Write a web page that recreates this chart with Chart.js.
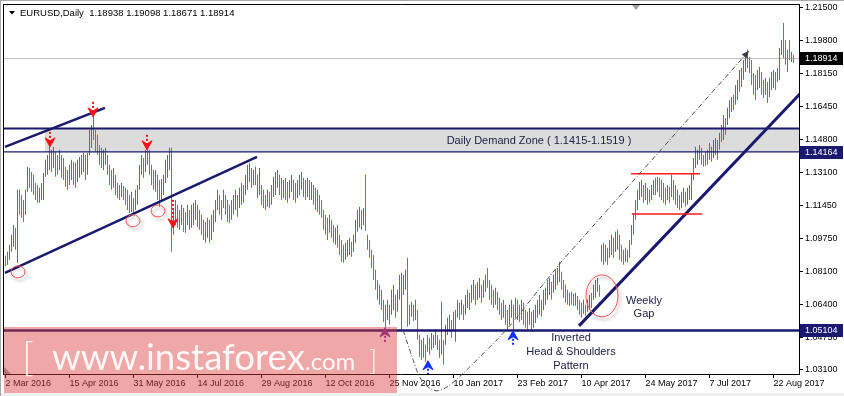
<!DOCTYPE html>
<html>
<head>
<meta charset="utf-8">
<script src="https://cdn.jsdelivr.net/npm/chart.js"></script>
<style>
  html, body { margin: 0; padding: 0; background: #fff; overflow: hidden; }
  #wrap { width: 844px; height: 396px; }
</style>
</head>
<body>
<div id="wrap"><canvas id="myChart" width="844" height="396"></canvas></div>
<script>
// EURUSD daily, 2 Mar 2016 .. 30 Aug 2017 (one value per trading day)
const symbol = 'EURUSD,Daily';
const lastOHLC = [1.18938, 1.19098, 1.18671, 1.18914];

const highs = [
  1.0889, 1.0910, 1.0945, 1.0996, 1.1046, 1.1031, 1.1224, 1.1224, 1.1198, 1.1173,
  1.1224, 1.1341, 1.1335, 1.1315, 1.1300, 1.1259, 1.1249, 1.1234, 1.1259, 1.1310,
  1.1376, 1.1401, 1.1462, 1.1427, 1.1442, 1.1417, 1.1401, 1.1427, 1.1401, 1.1386,
  1.1341, 1.1325, 1.1351, 1.1376, 1.1366, 1.1361, 1.1376, 1.1391, 1.1401, 1.1411,
  1.1401, 1.1411, 1.1528, 1.1553, 1.1594, 1.1528, 1.1503, 1.1452, 1.1437, 1.1427,
  1.1437, 1.1401, 1.1351, 1.1325, 1.1335, 1.1300, 1.1259, 1.1249, 1.1259, 1.1244,
  1.1234, 1.1224, 1.1198, 1.1214, 1.1183, 1.1224, 1.1249, 1.1351, 1.1401, 1.1386,
  1.1427, 1.1462, 1.1427, 1.1351, 1.1325, 1.1325, 1.1300, 1.1274, 1.1279, 1.1300,
  1.1376, 1.1401, 1.1437, 1.1437, 1.1122, 1.1173, 1.1148, 1.1122, 1.1148, 1.1132,
  1.1112, 1.1148, 1.1122, 1.1148, 1.1158, 1.1173, 1.1148, 1.1122, 1.1097, 1.1072,
  1.1061, 1.1082, 1.1072, 1.1097, 1.1122, 1.1173, 1.1224, 1.1198, 1.1173, 1.1224,
  1.1198, 1.1173, 1.1148, 1.1173, 1.1198, 1.1224, 1.1198, 1.1234, 1.1259, 1.1249,
  1.1300, 1.1351, 1.1361, 1.1335, 1.1325, 1.1341, 1.1300, 1.1335, 1.1249, 1.1224,
  1.1198, 1.1224, 1.1214, 1.1249, 1.1290, 1.1315, 1.1325, 1.1300, 1.1285, 1.1274,
  1.1285, 1.1264, 1.1274, 1.1300, 1.1274, 1.1259, 1.1274, 1.1300, 1.1315, 1.1285,
  1.1274, 1.1285, 1.1274, 1.1264, 1.1249, 1.1234, 1.1224, 1.1198, 1.1173, 1.1122,
  1.1097, 1.1082, 1.1097, 1.1072, 1.1046, 1.1031, 1.1046, 1.0996, 1.0970, 1.0945,
  1.0955, 1.0970, 1.0981, 1.0960, 1.0996, 1.1072, 1.1122, 1.1138, 1.1122, 1.1132,
  1.1300, 1.0996, 1.0970, 1.0920, 1.0894, 1.0818, 1.0767, 1.0742, 1.0717, 1.0666,
  1.0641, 1.0666, 1.0641, 1.0717, 1.0742, 1.0691, 1.0717, 1.0793, 1.0803, 1.0793,
  1.0818, 1.0879, 1.0641, 1.0656, 1.0641, 1.0666, 1.0615, 1.0488, 1.0463, 1.0473,
  1.0438, 1.0488, 1.0473, 1.0498, 1.0488, 1.0514, 1.0488, 1.0463, 1.0656, 1.0463,
  1.0539, 1.0575, 1.0590, 1.0564, 1.0605, 1.0615, 1.0666, 1.0651, 1.0666, 1.0641,
  1.0691, 1.0717, 1.0702, 1.0742, 1.0767, 1.0742, 1.0757, 1.0777, 1.0742, 1.0767,
  1.0793, 1.0828, 1.0767, 1.0742, 1.0717, 1.0727, 1.0707, 1.0676, 1.0651, 1.0666,
  1.0641, 1.0615, 1.0641, 1.0666, 1.0641, 1.0676, 1.0666, 1.0641, 1.0666, 1.0651,
  1.0615, 1.0605, 1.0625, 1.0605, 1.0615, 1.0641, 1.0666, 1.0691, 1.0666, 1.0717,
  1.0727, 1.0767, 1.0777, 1.0757, 1.0793, 1.0818, 1.0828, 1.0859, 1.0808, 1.0767,
  1.0742, 1.0717, 1.0702, 1.0707, 1.0697, 1.0702, 1.0686, 1.0666, 1.0651, 1.0666,
  1.0641, 1.0666, 1.0691, 1.0702, 1.0742, 1.0767, 1.0777, 1.0742, 1.0945, 1.0955,
  1.0945, 1.0930, 1.0970, 1.0996, 1.0981, 1.1011, 1.1021, 1.0996, 1.0945, 1.0920,
  1.0930, 1.0920, 1.0970, 1.1046, 1.1107, 1.1173, 1.1224, 1.1264, 1.1274, 1.1249,
  1.1259, 1.1234, 1.1224, 1.1249, 1.1274, 1.1285, 1.1290, 1.1285, 1.1274, 1.1259,
  1.1234, 1.1249, 1.1239, 1.1300, 1.1274, 1.1249, 1.1224, 1.1198, 1.1214, 1.1234,
  1.1214, 1.1234, 1.1249, 1.1310, 1.1386, 1.1442, 1.1427, 1.1452, 1.1437, 1.1401,
  1.1417, 1.1427, 1.1462, 1.1442, 1.1477, 1.1487, 1.1477, 1.1513, 1.1553, 1.1604,
  1.1589, 1.1640, 1.1680, 1.1695, 1.1706, 1.1756, 1.1782, 1.1832, 1.1842, 1.1883,
  1.1908, 1.1934, 1.1898, 1.1883, 1.1817, 1.1807, 1.1832, 1.1848, 1.1822, 1.1782,
  1.1792, 1.1771, 1.1792, 1.1822, 1.1832, 1.1822, 1.1842, 1.1944, 1.1984, 1.2070,
  1.1984, 1.1934, 1.1984, 1.1924, 1.19098
];

const lows = [
  1.0838, 1.0844, 1.0869, 1.0910, 1.0935, 1.0920, 1.0854, 1.1097, 1.1082, 1.1061,
  1.1097, 1.1214, 1.1234, 1.1214, 1.1198, 1.1173, 1.1158, 1.1158, 1.1173, 1.1173,
  1.1290, 1.1300, 1.1325, 1.1315, 1.1335, 1.1290, 1.1300, 1.1325, 1.1285, 1.1274,
  1.1239, 1.1224, 1.1249, 1.1274, 1.1249, 1.1234, 1.1264, 1.1285, 1.1300, 1.1315,
  1.1274, 1.1300, 1.1401, 1.1437, 1.1477, 1.1417, 1.1401, 1.1351, 1.1335, 1.1325,
  1.1351, 1.1300, 1.1249, 1.1224, 1.1234, 1.1198, 1.1183, 1.1173, 1.1188, 1.1173,
  1.1148, 1.1122, 1.1107, 1.1112, 1.1107, 1.1122, 1.1148, 1.1224, 1.1300, 1.1285,
  1.1315, 1.1351, 1.1300, 1.1249, 1.1224, 1.1214, 1.1173, 1.1138, 1.1173, 1.1198,
  1.1259, 1.1285, 1.1325, 1.0910, 1.0996, 1.1046, 1.1031, 1.1021, 1.1046, 1.1011,
  1.1006, 1.1046, 1.1021, 1.1031, 1.1046, 1.1072, 1.1036, 1.1021, 1.0996, 1.0970,
  1.0955, 1.0981, 1.0955, 1.0970, 1.1011, 1.1061, 1.1122, 1.1097, 1.1072, 1.1132,
  1.1097, 1.1061, 1.1056, 1.1072, 1.1097, 1.1122, 1.1087, 1.1132, 1.1148, 1.1158,
  1.1198, 1.1224, 1.1264, 1.1234, 1.1249, 1.1249, 1.1183, 1.1198, 1.1148, 1.1132,
  1.1122, 1.1138, 1.1132, 1.1148, 1.1188, 1.1198, 1.1234, 1.1198, 1.1173, 1.1183,
  1.1173, 1.1158, 1.1183, 1.1214, 1.1173, 1.1158, 1.1183, 1.1198, 1.1224, 1.1188,
  1.1173, 1.1188, 1.1173, 1.1173, 1.1148, 1.1122, 1.1112, 1.1097, 1.1082, 1.1021,
  1.0996, 1.0970, 1.1006, 1.0981, 1.0955, 1.0945, 1.0930, 1.0894, 1.0859, 1.0854,
  1.0869, 1.0884, 1.0894, 1.0884, 1.0910, 1.0955, 1.1011, 1.1031, 1.1021, 1.1046,
  1.1016, 1.0920, 1.0879, 1.0828, 1.0767, 1.0717, 1.0666, 1.0641, 1.0615, 1.0554,
  1.0524, 1.0564, 1.0539, 1.0590, 1.0615, 1.0575, 1.0605, 1.0666, 1.0514, 1.0691,
  1.0717, 1.0529, 1.0539, 1.0580, 1.0559, 1.0564, 1.0463, 1.0377, 1.0362, 1.0372,
  1.0352, 1.0402, 1.0387, 1.0413, 1.0423, 1.0438, 1.0413, 1.0372, 1.0387, 1.0337,
  1.0438, 1.0488, 1.0504, 1.0473, 1.0514, 1.0453, 1.0575, 1.0564, 1.0590, 1.0564,
  1.0590, 1.0625, 1.0615, 1.0651, 1.0666, 1.0641, 1.0666, 1.0676, 1.0651, 1.0676,
  1.0707, 1.0727, 1.0666, 1.0641, 1.0625, 1.0641, 1.0615, 1.0590, 1.0564, 1.0575,
  1.0539, 1.0514, 1.0539, 1.0575, 1.0514, 1.0575, 1.0564, 1.0554, 1.0564, 1.0539,
  1.0524, 1.0514, 1.0539, 1.0504, 1.0524, 1.0549, 1.0575, 1.0590, 1.0580, 1.0615,
  1.0641, 1.0666, 1.0691, 1.0666, 1.0702, 1.0717, 1.0742, 1.0757, 1.0717, 1.0676,
  1.0651, 1.0641, 1.0636, 1.0641, 1.0636, 1.0636, 1.0615, 1.0590, 1.0575, 1.0595,
  1.0585, 1.0605, 1.0615, 1.0625, 1.0666, 1.0676, 1.0707, 1.0681, 1.0859, 1.0844,
  1.0859, 1.0844, 1.0879, 1.0894, 1.0879, 1.0910, 1.0920, 1.0869, 1.0859, 1.0844,
  1.0859, 1.0854, 1.0879, 1.0945, 1.0996, 1.1072, 1.1122, 1.1173, 1.1188, 1.1158,
  1.1173, 1.1148, 1.1158, 1.1173, 1.1198, 1.1198, 1.1214, 1.1188, 1.1173, 1.1158,
  1.1148, 1.1173, 1.1158, 1.1188, 1.1173, 1.1148, 1.1132, 1.1122, 1.1132, 1.1158,
  1.1138, 1.1148, 1.1173, 1.1173, 1.1274, 1.1335, 1.1351, 1.1376, 1.1351, 1.1341,
  1.1346, 1.1351, 1.1376, 1.1366, 1.1386, 1.1401, 1.1376, 1.1427, 1.1467, 1.1477,
  1.1503, 1.1553, 1.1589, 1.1619, 1.1629, 1.1655, 1.1680, 1.1721, 1.1746, 1.1782,
  1.1822, 1.1842, 1.1817, 1.1756, 1.1706, 1.1680, 1.1731, 1.1741, 1.1706, 1.1690,
  1.1706, 1.1665, 1.1695, 1.1731, 1.1741, 1.1731, 1.1771, 1.1782, 1.1908, 1.1893,
  1.1858, 1.1822, 1.1883, 1.1873, 1.18671
];

// u = close above open (blue), d = close below open (red)
const upDown = ('duuuududdd uuddddduuu uuududdudd dduudduuuu duuudddddu ' +
  'udddudddud ddduduuuud uudddudduu uuudduduud duduuudddd ' +
  'duduuuuddu ddduuuduud uuududdudd duduuuuddu dduudduuud ' +
  'dududddddd dduddudddd uuuduuuudu dddddddddd duduuduuuu ' +
  'uddududddu duduuuddud uuuduuudud uuduuduudu uddddudddu ' +
  'dduududdud dduduuuudu uuuduuuudd dduddudddu duuduuuddd ' +
  'uduuduuddd uduuuuuuud udduududdd dududddduu duuuuuuudd ' +
  'ududuuduuu duuuduuuuu uudddduudd uduuuduuud dddud').replace(/ /g, '');

const dateLabels = ['2 Mar 2016', '15 Apr 2016', '31 May 2016', '14 Jul 2016', '29 Aug 2016',
  '12 Oct 2016', '25 Nov 2016', '10 Jan 2017', '23 Feb 2017', '10 Apr 2017',
  '24 May 2017', '7 Jul 2017', '22 Aug 2017'];
const dateIndex = [0, 32, 64, 96, 128, 160, 192, 224, 256, 288, 320, 352, 384];
const priceTicks = [1.215, 1.198, 1.1815, 1.1645, 1.148, 1.131, 1.1145, 1.0975, 1.081, 1.064, 1.0475, 1.031];

// levels and drawings, as [bar index, price]
const demandZone = [1.14164, 1.1535];
const zoneStart = 19.75;
const supportLevel = 1.05104;
const channelTop = [[-0.25, 1.1442], [49.75, 1.1640]];
const channelBottom = [[-0.25, 1.0803], [125.75, 1.1391]];
const risingTrend = [[286.75, 1.0534], [397.5, 1.1714]];
const flagTop = [[312.75, 1.1305], [347.25, 1.1305]];
const flagBottom = [[313.25, 1.1102], [348.25, 1.1102]];
const patternPath = [[198.75, 1.0514], [203.75, 1.0362], [207.25, 1.0261], [213.75, 1.0200],
  [218.75, 1.0210], [223.75, 1.0245], [230.75, 1.0311], [240.75, 1.0413], [250.75, 1.0514],
  [263.75, 1.0681], [278.75, 1.0869], [371.75, 1.1929]];
const sellArrows = [[22.25, 1.1442], [43.75, 1.1594], [70.75, 1.1427], [83.75, 1.1031]];
const buyArrows = [[189.75, 1.0524], [211.25, 1.0357], [253.75, 1.0509]];
const touchCircles = [[6.25, 1.0808], [63.75, 1.1067], [76.25, 1.1117]];
const gapCircle = [298.25, 1.0686];

const navy = '#191970';
const upColor = '#4169e1';
const downColor = '#ff4500';

function px(chart, pt) {
  return [chart.scales.x.getPixelForValue(pt[0]), chart.scales.y.getPixelForValue(pt[1])];
}

function strokeSeg(ctx, a, b) {
  ctx.beginPath();
  ctx.moveTo(a[0], a[1]);
  ctx.lineTo(b[0], b[1]);
  ctx.stroke();
}

function hLine(chart, value, width) {
  const ctx = chart.ctx, a = chart.chartArea;
  const y = chart.scales.y.getPixelForValue(value);
  ctx.lineWidth = width;
  strokeSeg(ctx, [a.left, y], [a.right, y]);
}

function arrow(ctx, x, tip, dir, color, shaft) {
  // dir 1 = pointing down, -1 = pointing up
  ctx.strokeStyle = color;
  ctx.fillStyle = color;
  ctx.lineWidth = 2;
  ctx.setLineDash([2, 2]);
  strokeSeg(ctx, [x, tip - dir * (8 + shaft)], [x, tip - dir * 7]);
  ctx.setLineDash([]);
  ctx.beginPath();
  ctx.moveTo(x, tip);
  ctx.lineTo(x - 5, tip - dir * 9);
  ctx.lineTo(x, tip - dir * 6);
  ctx.lineTo(x + 5, tip - dir * 9);
  ctx.closePath();
  ctx.fill();
  ctx.lineWidth = 1;
  ctx.stroke();
}

function circle(ctx, c, rx, ry) {
  ctx.save();
  ctx.shadowColor = 'rgba(0,0,0,0.35)';
  ctx.shadowBlur = 3;
  ctx.shadowOffsetX = 2;
  ctx.shadowOffsetY = 3;
  ctx.strokeStyle = '#ff4d4d';
  ctx.lineWidth = 1;
  ctx.beginPath();
  ctx.ellipse(c[0], c[1], rx, ry, 0, 0, Math.PI * 2);
  ctx.stroke();
  ctx.restore();
}

function priceBox(ctx, y, text, bg) {
  ctx.fillStyle = bg;
  ctx.fillRect(800, Math.round(y) - 6, 43, 13);
  ctx.fillStyle = '#fff';
  ctx.font = '9px "Liberation Sans"';
  ctx.textAlign = 'left';
  ctx.textBaseline = 'middle';
  ctx.fillText(text, 805, Math.round(y) + 0.5);
}

const decor = {
  id: 'decor',
  beforeDatasetsDraw(chart) {
    const ctx = chart.ctx, a = chart.chartArea, y = chart.scales.y;
    ctx.save();
    const zx = chart.scales.x.getPixelForValue(zoneStart);
    const zt = y.getPixelForValue(demandZone[1]);
    const zb = y.getPixelForValue(demandZone[0]);
    ctx.fillStyle = '#dcdcdc';
    ctx.fillRect(zx, zt, a.right - zx, zb - zt);
    ctx.strokeStyle = '#c0c0c0';
    const pl = Math.round(y.getPixelForValue(lastOHLC[3])) + 0.5;
    ctx.lineWidth = 1;
    strokeSeg(ctx, [a.left, pl], [a.right, pl]);
    ctx.restore();
  },
  afterDatasetsDraw(chart) {
    const ctx = chart.ctx, a = chart.chartArea;
    ctx.save();
    ctx.beginPath();
    ctx.rect(a.left, a.top, a.right - a.left, a.bottom - a.top);
    ctx.clip();

    ctx.strokeStyle = navy;
    hLine(chart, demandZone[1], 2);
    hLine(chart, demandZone[0], 1.3);
    hLine(chart, supportLevel, 2.6);
    ctx.lineWidth = 2.5;
    strokeSeg(ctx, px(chart, channelTop[0]), px(chart, channelTop[1]));
    strokeSeg(ctx, px(chart, channelBottom[0]), px(chart, channelBottom[1]));
    ctx.lineWidth = 3;
    strokeSeg(ctx, px(chart, risingTrend[0]), px(chart, risingTrend[1]));

    ctx.strokeStyle = '#ff1a1a';
    ctx.lineWidth = 1.5;
    strokeSeg(ctx, px(chart, flagTop[0]), px(chart, flagTop[1]));
    strokeSeg(ctx, px(chart, flagBottom[0]), px(chart, flagBottom[1]));

    sellArrows.forEach((pt, k) => {
      const p = px(chart, pt);
      arrow(ctx, Math.round(p[0]), p[1], 1, '#ff1010', k === 3 ? 20 : 7);
    });
    buyArrows.forEach((pt, k) => {
      const p = px(chart, pt);
      arrow(ctx, Math.round(p[0]), p[1], -1, k === 0 ? '#7a2bb0' : '#1030ff', 6);
    });

    touchCircles.forEach(pt => circle(ctx, px(chart, pt), 7, 6));
    circle(ctx, px(chart, gapCircle), 16, 21);

    ctx.fillStyle = '#20204a';
    ctx.font = '11px "Liberation Sans"';
    ctx.textAlign = 'center';
    ctx.textBaseline = 'middle';
    let t = px(chart, [266.75, 1.1474]);
    ctx.fillText('Daily Demand Zone ( 1.1415-1.1519 )', t[0], t[1]);
    t = px(chart, [282.75, 1.0474]);
    ctx.fillText('Inverted', t[0], t[1]);
    t = px(chart, [282.75, 1.0403]);
    ctx.fillText('Head & Shoulders', t[0], t[1]);
    t = px(chart, [282.75, 1.0332]);
    ctx.fillText('Pattern', t[0], t[1]);
    t = px(chart, [319.25, 1.0661]);
    ctx.fillText('Weekly', t[0], t[1]);
    t = px(chart, [319.25, 1.0595]);
    ctx.fillText('Gap', t[0], t[1]);
    ctx.restore();
  },
  afterDraw(chart) {
    const ctx = chart.ctx, a = chart.chartArea, y = chart.scales.y;
    ctx.save();

    // frame
    ctx.strokeStyle = '#000';
    ctx.lineWidth = 1;
    strokeSeg(ctx, [a.left + 0.5, a.top + 0.5], [a.right, a.top + 0.5]);
    strokeSeg(ctx, [a.left + 0.5, a.top], [a.left + 0.5, a.bottom]);
    ctx.fillStyle = '#f0f0f0';
    ctx.fillRect(0, 393, 844, 3);
    ctx.strokeStyle = '#a8a8a8';
    strokeSeg(ctx, [0, 0.5], [844, 0.5]);
    strokeSeg(ctx, [0.5, 0], [0.5, 396]);

    // chart shift markers
    ctx.fillStyle = '#a0a0a0';
    ctx.beginPath();
    ctx.moveTo(632, 5); ctx.lineTo(640, 5); ctx.lineTo(636, 10); ctx.closePath(); ctx.fill();
    ctx.beginPath();
    ctx.moveTo(4, 367); ctx.lineTo(4, 374); ctx.lineTo(11, 374); ctx.closePath(); ctx.fill();

    // head & shoulders path
    const pts = patternPath.map(p => px(chart, p));
    ctx.strokeStyle = '#4a4a5a';
    ctx.lineWidth = 1;
    ctx.setLineDash([5, 2, 1, 2]);
    ctx.beginPath();
    ctx.moveTo(pts[0][0], pts[0][1]);
    for (let k = 1; k < pts.length - 2; k++) {
      const mx = (pts[k][0] + pts[k + 1][0]) / 2, my = (pts[k][1] + pts[k + 1][1]) / 2;
      ctx.quadraticCurveTo(pts[k][0], pts[k][1], mx, my);
    }
    const e = pts[pts.length - 1], s = pts[pts.length - 2];
    ctx.lineTo(s[0], s[1]);
    ctx.lineTo(e[0], e[1]);
    ctx.stroke();
    ctx.setLineDash([]);
    const ang = Math.atan2(e[1] - s[1], e[0] - s[0]);
    ctx.fillStyle = '#3a3a4a';
    ctx.beginPath();
    ctx.moveTo(e[0], e[1]);
    ctx.lineTo(e[0] - 8 * Math.cos(ang - 0.4), e[1] - 8 * Math.sin(ang - 0.4));
    ctx.lineTo(e[0] - 8 * Math.cos(ang + 0.4), e[1] - 8 * Math.sin(ang + 0.4));
    ctx.closePath();
    ctx.fill();

    // watermark
    ctx.fillStyle = 'rgba(220,60,60,0.45)';
    ctx.fillRect(4, 327, 393, 66);
    ctx.fillStyle = 'rgba(255,255,255,0.92)';
    ctx.textAlign = 'left';
    ctx.textBaseline = 'alphabetic';
    ctx.font = '36px Lato';
    const w1 = ctx.measureText('www.instaforex').width;
    const size = 36 * 253 / w1;
    ctx.font = size.toFixed(1) + 'px Lato';
    ctx.fillText('www.instaforex', 52, 370);
    ctx.font = '24px Lato';
    ctx.fillText('.com', 305, 370);
    ctx.font = '300 40px Lato';
    ctx.fillText('[', 22, 371);
    ctx.font = '300 28px Lato';
    ctx.fillText(']', 369, 370);

    // price labels
    priceBox(ctx, y.getPixelForValue(lastOHLC[3]), lastOHLC[3].toFixed(5), '#000');
    priceBox(ctx, y.getPixelForValue(demandZone[0]), demandZone[0].toFixed(5), navy);
    priceBox(ctx, y.getPixelForValue(supportLevel), supportLevel.toFixed(5), navy);

    // header
    ctx.fillStyle = '#000';
    ctx.beginPath();
    ctx.moveTo(9, 11); ctx.lineTo(15, 11); ctx.lineTo(12, 14.5); ctx.closePath(); ctx.fill();
    ctx.font = '9.5px "Liberation Sans"';
    ctx.textBaseline = 'middle';
    ctx.fillText(symbol + '  ' + lastOHLC.map(v => v.toFixed(5)).join(' '), 20, 13);
    ctx.restore();
  }
};

const ctx = document.querySelector('#myChart');

new Chart(ctx, {
  type: 'bar',
  data: {
    datasets: [{
      data: highs.map((h, i) => ({ x: i, y: [lows[i], h] })),
      backgroundColor: (c) => upDown[c.dataIndex] === 'u' ? upColor : downColor,
      barThickness: 1,
      borderWidth: 0,
      inflateAmount: 0
    }]
  },
  options: {
    responsive: false,
    animation: false,
    devicePixelRatio: 1,
    layout: { padding: { left: 3, top: 4, right: 0, bottom: 0 } },
    plugins: { legend: { display: false }, tooltip: { enabled: false } },
    scales: {
      x: {
        type: 'linear',
        min: -1.25,
        max: 396.75,
        offset: false,
        grid: { display: true, drawOnChartArea: false, drawTicks: true, tickLength: 4, color: '#000', offset: false },
        border: { display: true, color: '#000' },
        afterBuildTicks: (scale) => { scale.ticks = dateIndex.map(v => ({ value: v })); },
        afterFit: (scale) => {
          scale.height = 22;
          scale.paddingLeft = 0; scale.paddingRight = 0;
        },
        ticks: {
          autoSkip: false,
          maxRotation: 0,
          minRotation: 0,
          align: 'start',
          padding: 0,
          color: '#000',
          font: { family: 'Liberation Sans', size: 9 },
          callback: (v) => dateLabels[dateIndex.indexOf(v)]
        }
      },
      y: {
        position: 'right',
        min: 1.02897,
        max: 1.21667,
        beginAtZero: false,
        grid: { display: true, drawOnChartArea: false, drawTicks: true, tickLength: 4, color: '#000' },
        border: { display: true, color: '#000' },
        afterBuildTicks: (scale) => { scale.ticks = priceTicks.map(v => ({ value: v })); },
        afterFit: (scale) => {
          scale.width = 45;
          scale.paddingTop = 0; scale.paddingBottom = 0;
        },
        ticks: {
          padding: 2,
          color: '#000',
          font: { family: 'Liberation Sans', size: 9 },
          callback: (v) => v.toFixed(5)
        }
      }
    }
  },
  plugins: [decor]
});
</script>
</body>
</html>
